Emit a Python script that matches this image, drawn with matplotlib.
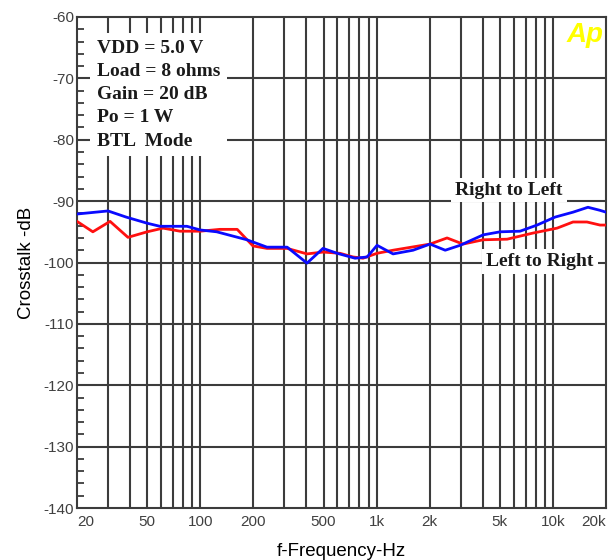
import matplotlib
matplotlib.use('Agg')
import matplotlib.pyplot as plt
from matplotlib.ticker import FixedLocator, MultipleLocator, NullLocator

plt.rcParams['axes.unicode_minus'] = False

# Right to Left crosstalk (blue)
freq_rl = [20, 30, 38, 50, 59, 84, 100, 124, 184, 239, 311, 403, 497, 597, 755, 884,
           1006, 1240, 1610, 2010, 2450, 2975, 4020, 5020, 6510, 8130, 10290, 13000,
           15800, 18500, 20000]
db_rl = [-92.1, -91.6, -92.6, -93.6, -94.1, -94.1, -94.7, -95.0, -96.3, -97.5, -97.5,
         -100.1, -97.7, -98.5, -99.3, -99.1, -97.2, -98.6, -98.0, -97.0, -98.0, -97.2,
         -95.5, -95.0, -94.9, -93.9, -92.6, -91.8, -91.0, -91.5, -91.8]

# Left to Right crosstalk (red)
freq_lr = [20, 24.6, 30.8, 38.9, 50, 61.5, 76.8, 100, 129, 162, 199, 239, 311, 403, 497,
           620, 735, 838, 1006, 1240, 2010, 2510, 3090, 4020, 5500, 7720, 10560, 13000,
           15600, 18500, 20000]
db_lr = [-93.3, -95.0, -93.3, -95.9, -95.0, -94.4, -94.9, -94.9, -94.6, -94.6, -97.3,
         -97.7, -97.7, -98.6, -98.3, -98.5, -99.1, -99.3, -98.5, -98.0, -97.0, -96.0,
         -97.0, -96.3, -96.2, -95.2, -94.4, -93.4, -93.4, -93.9, -93.9]

x_ticks = [20, 50, 100, 200, 500, 1000, 2000, 5000, 10000, 20000]
x_labels = ['20', '50', '100', '200', '500', '1k', '2k', '5k', '10k', '20k']
grid_freqs = [30, 40, 50, 60, 70, 80, 90, 100, 200, 300, 400, 500, 600, 700, 800, 900,
              1000, 2000, 3000, 4000, 5000, 6000, 7000, 8000, 9000, 10000]
y_ticks = [-60, -70, -80, -90, -100, -110, -120, -130, -140]
info_lines = ['VDD = 5.0 V', 'Load = 8 ohms', 'Gain = 20 dB', 'Po = 1 W', 'BTL  Mode']

grid_col = '#3c3c3c'
label_font = ['Liberation Sans', 'DejaVu Sans']
serif_font = ['Liberation Serif', 'DejaVu Serif']

fig = plt.figure(figsize=(6.12, 5.6), dpi=100)
ax = fig.add_axes([77/612, 1 - 508/560, 529/612, 491/560])
ax.set_xscale('log')
ax.set_xlim(20, 20000)
ax.set_ylim(-140, -60)

# grid
for f in grid_freqs:
    ax.axvline(f, color=grid_col, lw=1.5, zorder=1)
for y in y_ticks[1:-1]:
    ax.axhline(y, color=grid_col, lw=1.5, zorder=1)

ax.plot(freq_lr, db_lr, color='#ff1010', lw=2.0, zorder=3)
ax.plot(freq_rl, db_rl, color='#0a0aff', lw=2.0, zorder=3)

for s in ax.spines.values():
    s.set_color(grid_col)
    s.set_linewidth(1.5)

ax.xaxis.set_major_locator(FixedLocator(x_ticks))
ax.xaxis.set_minor_locator(NullLocator())
ax.set_xticklabels(x_labels)
ax.tick_params(axis='x', length=0, pad=5, labelsize=11, labelcolor='#404040')
xl = ax.get_xticklabels()
xl[0].set_ha('left')
xl[-1].set_ha('right')

ax.set_yticks(y_ticks)
ax.yaxis.set_minor_locator(MultipleLocator(2))
ax.tick_params(axis='y', which='major', length=0, pad=2, labelsize=11, labelcolor='#404040')
ax.tick_params(axis='y', which='minor', direction='in', length=5, width=1.3, color=grid_col)
for lab in ax.get_xticklabels() + ax.get_yticklabels():
    lab.set_family(label_font)

ax.set_xlabel('f-Frequency-Hz', fontsize=13.5, family=label_font, labelpad=10)
ax.set_ylabel('Crosstalk -dB', fontsize=13.5, family=label_font, labelpad=6)

ax.text(0.038, 0.953, '\n'.join(info_lines), transform=ax.transAxes, ha='left', va='top',
        fontsize=14, family=serif_font, fontweight='bold', color='#1a1a1a', linespacing=1.47,
        zorder=5, bbox=dict(boxstyle='square,pad=0.35', facecolor='white', edgecolor='none'))

ax.text(5640, -88.2, 'Right to Left', ha='center', va='center', fontsize=14,
        family=serif_font, fontweight='bold', color='#1a1a1a', zorder=5,
        bbox=dict(boxstyle='square,pad=0.2', facecolor='white', edgecolor='none'))
ax.text(8450, -99.9, 'Left to Right', ha='center', va='center', fontsize=14,
        family=serif_font, fontweight='bold', color='#1a1a1a', zorder=5,
        bbox=dict(boxstyle='square,pad=0.2', facecolor='white', edgecolor='none'))

ax.text(0.96, 0.963, 'Ap', transform=ax.transAxes, ha='center', va='center', fontsize=20,
        family=label_font, fontweight='bold', style='italic', color='#ffff00', zorder=5)

fig.savefig('out.png', dpi=100)
